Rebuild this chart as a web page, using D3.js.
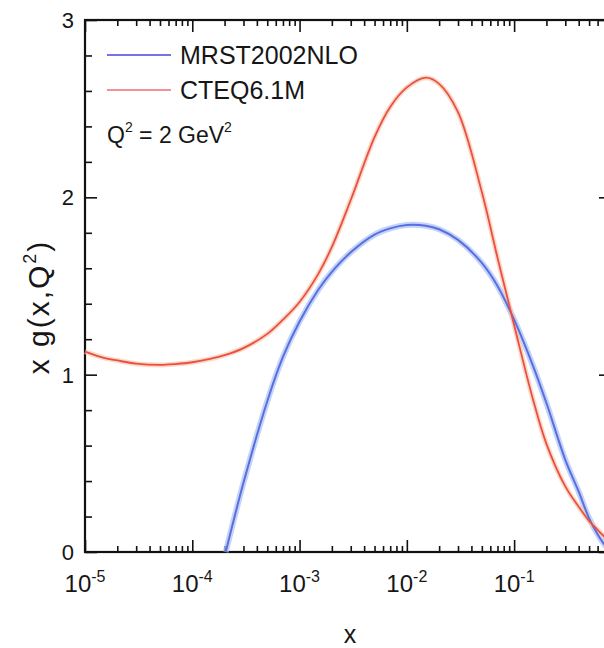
<!DOCTYPE html>
<html>
<head>
<meta charset="utf-8">
<script src="https://cdnjs.cloudflare.com/ajax/libs/d3/7.8.5/d3.min.js"></script>
<style>
body { margin: 0; background: #fff; overflow: hidden; }
text { font-family: "Liberation Sans", Arial, sans-serif; fill: #161616; }
</style>
</head>
<body>
<div id="chart"></div>
<script>

// CTEQ6.1M curve (red)
var xCteq = [1e-5, 1.5e-5, 2e-5, 3e-5, 5e-5, 7e-5, 1e-4, 1.5e-4, 2e-4, 3e-4, 5e-4, 7e-4,
    1e-3, 1.5e-3, 2e-3, 3e-3, 5e-3, 7e-3, 1e-2, 1.5e-2, 2e-2, 3e-2, 5e-2, 7e-2,
    0.1, 0.15, 0.2, 0.3, 0.4, 0.5, 0.6, 0.7, 0.8];
var cteq = [1.13, 1.095, 1.08, 1.062, 1.055, 1.06, 1.07, 1.09, 1.11, 1.15, 1.23, 1.31,
    1.41, 1.57, 1.72, 1.985, 2.34, 2.51, 2.62, 2.675, 2.64, 2.48, 2.03, 1.66,
    1.28, 0.86, 0.61, 0.37, 0.255, 0.175, 0.125, 0.085, 0.055];

// MRST2002NLO curve (blue)
var xMrst = [2.05e-4, 3e-4, 5e-4, 7e-4, 1e-3, 1.5e-3, 2e-3, 3e-3, 5e-3, 7e-3, 1e-2, 1.5e-2,
    2e-2, 3e-2, 5e-2, 7e-2, 0.1, 0.15, 0.2, 0.3, 0.4, 0.5, 0.6, 0.7, 0.8];
var mrst = [0, 0.39, 0.85, 1.10, 1.30, 1.48, 1.58, 1.69, 1.79, 1.825, 1.844, 1.84,
    1.82, 1.76, 1.63, 1.50, 1.31, 1.05, 0.84, 0.52, 0.34, 0.19, 0.10, 0.04, 0.01];

var xMajor = [1e-5, 1e-4, 1e-3, 1e-2, 1e-1];
var xExp = ["-5", "-4", "-3", "-2", "-1"];
var yMajor = [0, 1, 2, 3];

var width = 604, height = 648;

var svg = d3.select("#chart")
    .append("svg")
    .attr("width", width)
    .attr("height", height);

var x = d3.scaleLog()
    .domain([1e-5, 0.8])
    .range([85, 611]);

var y = d3.scaleLinear()
    .domain([0, 3])
    .range([552, 20]);

var xMinor = x.ticks().filter(function(d) {
    return Math.abs(Math.log10(d) - Math.round(Math.log10(d))) > 1e-9;
});
var yMinor = d3.range(0, 3.01, 0.2).filter(function(d) {
    return Math.abs(d - Math.round(d)) > 1e-6;
});

// ticks, all pointing into the frame
function addAxis(axis, tr) {
    var g = svg.append("g")
        .attr("transform", tr)
        .call(axis);
    g.select(".domain").remove();
    g.selectAll("line").attr("stroke", "#111").attr("stroke-width", 1.6);
    return g;
}

addAxis(d3.axisBottom(x).tickValues(xMajor).tickSize(-12).tickFormat(""), "translate(0,552)");
addAxis(d3.axisBottom(x).tickValues(xMinor).tickSize(-6).tickFormat(""), "translate(0,552)");
addAxis(d3.axisTop(x).tickValues(xMajor).tickSize(-12).tickFormat(""), "translate(0,20)");
addAxis(d3.axisTop(x).tickValues(xMinor).tickSize(-6).tickFormat(""), "translate(0,20)");
addAxis(d3.axisLeft(y).tickValues(yMajor).tickSize(-12).tickFormat(""), "translate(85,0)");
addAxis(d3.axisLeft(y).tickValues(yMinor).tickSize(-7).tickFormat(""), "translate(85,0)");
addAxis(d3.axisRight(y).tickValues(yMajor).tickSize(-12).tickFormat(""), "translate(611,0)");
addAxis(d3.axisRight(y).tickValues(yMinor).tickSize(-7).tickFormat(""), "translate(611,0)");

// frame
svg.append("rect")
    .attr("x", x(1e-5))
    .attr("y", y(3))
    .attr("width", x(0.8) - x(1e-5))
    .attr("height", y(0) - y(3))
    .attr("fill", "none")
    .attr("stroke", "#111")
    .attr("stroke-width", 2.2);

// tick labels
svg.selectAll(".ylab")
    .data(yMajor)
    .enter()
    .append("text")
    .attr("class", "ylab")
    .attr("x", 74)
    .attr("y", function(d) { return y(d) + 8; })
    .attr("text-anchor", "end")
    .style("font-size", "22px")
    .text(function(d) { return d; });

var xl = svg.selectAll(".xlab")
    .data(xMajor)
    .enter()
    .append("text")
    .attr("class", "xlab")
    .attr("x", function(d) { return x(d); })
    .attr("y", 592)
    .attr("text-anchor", "middle")
    .style("font-size", "24px");
xl.append("tspan").text("10");
xl.append("tspan")
    .attr("dy", -10)
    .style("font-size", "16px")
    .text(function(d, i) { return xExp[i]; });

// axis titles
svg.append("text")
    .attr("x", 350)
    .attr("y", 643)
    .attr("text-anchor", "middle")
    .style("font-size", "25px")
    .text("x");

var yt = svg.append("text")
    .attr("transform", "translate(49,307) rotate(-90)")
    .attr("text-anchor", "middle")
    .style("font-size", "30px")
    .style("letter-spacing", "2px");
yt.append("tspan").text("x g(x,Q");
yt.append("tspan").attr("dy", -13).style("font-size", "18px").text("2");
yt.append("tspan").attr("dy", 13).text(")");

// curves
var line = d3.line()
    .x(function(d) { return x(d[0]); })
    .y(function(d) { return y(d[1]); })
    .curve(d3.curveCatmullRom.alpha(0.5));

var cteqPts = xCteq.map(function(v, i) { return [v, cteq[i]]; });
var mrstPts = xMrst.map(function(v, i) { return [v, mrst[i]]; });

svg.append("path").datum(mrstPts).attr("d", line)
    .attr("fill", "none").attr("stroke", "#a9c2f7").attr("stroke-width", 6).attr("opacity", 0.7);
svg.append("path").datum(cteqPts).attr("d", line)
    .attr("fill", "none").attr("stroke", "#f8c9ae").attr("stroke-width", 5).attr("opacity", 0.7);
svg.append("path").datum(mrstPts).attr("d", line)
    .attr("fill", "none").attr("stroke", "#5b6ee0").attr("stroke-width", 2);
svg.append("path").datum(cteqPts).attr("d", line)
    .attr("fill", "none").attr("stroke", "#ea4f45").attr("stroke-width", 1.8);

// legend
svg.append("line")
    .attr("x1", 107).attr("x2", 171).attr("y1", 55).attr("y2", 55)
    .attr("stroke", "#7672e2").attr("stroke-width", 2);
svg.append("line")
    .attr("x1", 107).attr("x2", 171).attr("y1", 90).attr("y2", 90)
    .attr("stroke", "#f06a7a").attr("stroke-width", 1.6);

svg.append("text")
    .attr("x", 180).attr("y", 64)
    .style("font-size", "25px")
    .text("MRST2002NLO");
svg.append("text")
    .attr("x", 180).attr("y", 99)
    .style("font-size", "25px")
    .text("CTEQ6.1M");

var qt = svg.append("text")
    .attr("x", 107).attr("y", 143)
    .style("font-size", "23px");
qt.append("tspan").text("Q");
qt.append("tspan").attr("dy", -11).style("font-size", "14px").text("2");
qt.append("tspan").attr("dy", 11).text(" = 2 GeV");
qt.append("tspan").attr("dy", -11).style("font-size", "14px").text("2");

</script>
</body>
</html>
